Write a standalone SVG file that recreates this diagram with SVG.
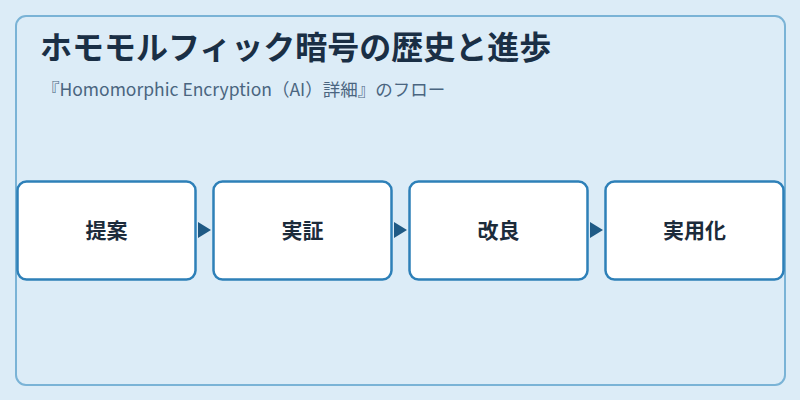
<svg xmlns="http://www.w3.org/2000/svg" width="800" height="400" viewBox="0 0 800 400">
  <defs>
    <style>
      .panel { fill: #dcecf7; stroke: #7ab3d6; stroke-width: 2; }
      .node rect { fill: #ffffff; stroke: #2e80b8; stroke-width: 2.5; }
      .node text { font-family: "Noto Sans CJK JP", "Noto Sans", sans-serif; font-size: 21px; font-weight: bold; fill: #1c2b3a; text-anchor: middle; }
      .title { font-family: "Noto Sans CJK JP", "Noto Sans", sans-serif; font-size: 32px; font-weight: bold; fill: #1a2f45; }
      .subtitle { font-family: "Noto Sans CJK JP", "Noto Sans", sans-serif; font-size: 17.5px; fill: #4a6580; }
      .arrow { fill: #1f5a85; }
    </style>
  </defs>
  <rect x="0" y="0" width="800" height="400" fill="#dcecf7"/>
  <rect class="panel" x="16" y="16" width="769" height="369" rx="10"/>
  <text class="title" x="40" y="59">ホモモルフィック暗号の歴史と進歩</text>
  <text class="subtitle" x="42" y="96">『Homomorphic Encryption（AI）詳細』のフロー</text>
  <g id="connectors">
    <polygon class="arrow" points="198,222 211,230 198,238"/>
    <polygon class="arrow" points="394,222 407,230 394,238"/>
    <polygon class="arrow" points="590,222 603,230 590,238"/>
  </g>
  <g id="node1" class="node">
    <rect x="17.5" y="181.5" width="178" height="98" rx="9"/>
    <text x="106.5" y="238">提案</text>
  </g>
  <g id="node2" class="node">
    <rect x="213.5" y="181.5" width="178" height="98" rx="9"/>
    <text x="302.5" y="238">実証</text>
  </g>
  <g id="node3" class="node">
    <rect x="409.5" y="181.5" width="178" height="98" rx="9"/>
    <text x="498.5" y="238">改良</text>
  </g>
  <g id="node4" class="node">
    <rect x="605.5" y="181.5" width="178" height="98" rx="9"/>
    <text x="694.5" y="238">実用化</text>
  </g>
</svg>
